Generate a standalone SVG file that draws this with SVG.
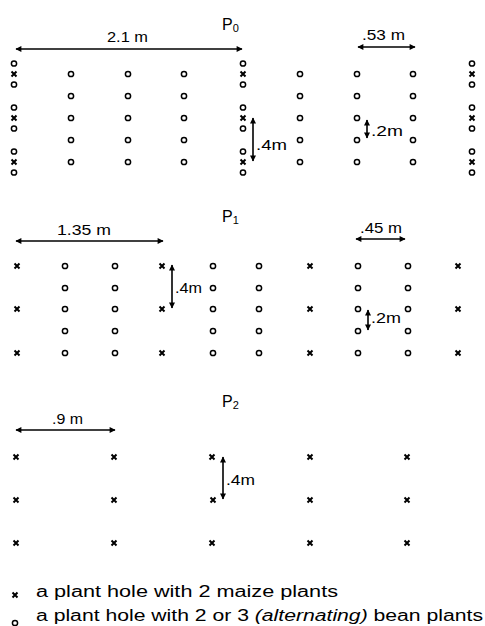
<svg xmlns="http://www.w3.org/2000/svg" xmlns:xlink="http://www.w3.org/1999/xlink" width="485" height="626" viewBox="0 0 485 626">
<style>
  text { font-family: "Liberation Sans", "DejaVu Sans", Arial, sans-serif; fill: #000; }
  .lbl { font-size: 14px; }
  .title { font-size: 16px; }
  .sub { font-size: 11px; }
  .leg { font-size: 16px; }
  .bean { fill: #fff; stroke: #000; stroke-width: 1.5; }
  .maize { fill: none; stroke: #000; stroke-width: 2; stroke-linecap: butt; }
  .dim { stroke: #000; stroke-width: 1.6; fill: none; }
</style>
<defs>
  <circle id="o" r="2.6" class="bean"/>
  <path id="x" d="M-2.5,-2.5 L2.5,2.5 M2.5,-2.5 L-2.5,2.5" class="maize"/>
  <marker id="ah" viewBox="0 0 10 10" refX="9" refY="5" markerWidth="8" markerHeight="6" markerUnits="userSpaceOnUse" orient="auto-start-reverse">
    <path d="M0,0 L10,5 L0,10 z" fill="#000"/>
  </marker>
</defs>
<rect width="485" height="626" fill="#fff"/>

<!-- P0 -->
<g id="p0">
  <text class="title" x="222" y="30">P<tspan class="sub" dy="2">0</tspan></text>
  <g id="p0-oxo">
    <use href="#o" x="14" y="63.5"/><use href="#x" x="14" y="74"/><use href="#o" x="14" y="84.5"/>
    <use href="#o" x="14" y="107.5"/><use href="#x" x="14" y="118"/><use href="#o" x="14" y="128.5"/>
    <use href="#o" x="14" y="151.5"/><use href="#x" x="14" y="162"/><use href="#o" x="14" y="172.5"/>
    <use href="#o" x="243" y="63.5"/><use href="#x" x="243" y="74"/><use href="#o" x="243" y="84.5"/>
    <use href="#o" x="243" y="107.5"/><use href="#x" x="243" y="118"/><use href="#o" x="243" y="128.5"/>
    <use href="#o" x="243" y="151.5"/><use href="#x" x="243" y="162"/><use href="#o" x="243" y="172.5"/>
    <use href="#o" x="472" y="63.5"/><use href="#x" x="472" y="74"/><use href="#o" x="472" y="84.5"/>
    <use href="#o" x="472" y="107.5"/><use href="#x" x="472" y="118"/><use href="#o" x="472" y="128.5"/>
    <use href="#o" x="472" y="151.5"/><use href="#x" x="472" y="162"/><use href="#o" x="472" y="172.5"/>
  </g>
  <g id="p0-beans">
    <use href="#o" x="71" y="74"/><use href="#o" x="71" y="96"/><use href="#o" x="71" y="118"/><use href="#o" x="71" y="140"/><use href="#o" x="71" y="162"/>
    <use href="#o" x="128" y="74"/><use href="#o" x="128" y="96"/><use href="#o" x="128" y="118"/><use href="#o" x="128" y="140"/><use href="#o" x="128" y="162"/>
    <use href="#o" x="184" y="74"/><use href="#o" x="184" y="96"/><use href="#o" x="184" y="118"/><use href="#o" x="184" y="140"/><use href="#o" x="184" y="162"/>
    <use href="#o" x="300" y="74"/><use href="#o" x="300" y="96"/><use href="#o" x="300" y="118"/><use href="#o" x="300" y="140"/><use href="#o" x="300" y="162"/>
    <use href="#o" x="357" y="74"/><use href="#o" x="357" y="96"/><use href="#o" x="357" y="118"/><use href="#o" x="357" y="140"/><use href="#o" x="357" y="162"/>
    <use href="#o" x="413" y="74"/><use href="#o" x="413" y="96"/><use href="#o" x="413" y="118"/><use href="#o" x="413" y="140"/><use href="#o" x="413" y="162"/>
  </g>
  <text class="lbl" x="107" y="42" textLength="41" lengthAdjust="spacingAndGlyphs">2.1 m</text>
  <text class="lbl" x="362" y="40" textLength="43" lengthAdjust="spacingAndGlyphs">.53 m</text>
  <text class="lbl" x="256" y="150" textLength="31" lengthAdjust="spacingAndGlyphs">.4m</text>
  <text class="lbl" x="371" y="136" textLength="32" lengthAdjust="spacingAndGlyphs">.2m</text>
</g>

<!-- P1 -->
<g id="p1">
  <text class="title" x="222" y="222">P<tspan class="sub" dy="2">1</tspan></text>
  <g id="p1-maize">
    <use href="#x" x="17" y="266"/><use href="#x" x="17" y="309"/><use href="#x" x="17" y="353"/>
    <use href="#x" x="162" y="266"/><use href="#x" x="162" y="309"/><use href="#x" x="162" y="353"/>
    <use href="#x" x="310" y="266"/><use href="#x" x="310" y="309"/><use href="#x" x="310" y="353"/>
    <use href="#x" x="458" y="266"/><use href="#x" x="458" y="309"/><use href="#x" x="458" y="353"/>
  </g>
  <g id="p1-beans">
    <use href="#o" x="65" y="266"/><use href="#o" x="65" y="288"/><use href="#o" x="65" y="309"/><use href="#o" x="65" y="331"/><use href="#o" x="65" y="353"/>
    <use href="#o" x="115" y="266"/><use href="#o" x="115" y="288"/><use href="#o" x="115" y="309"/><use href="#o" x="115" y="331"/><use href="#o" x="115" y="353"/>
    <use href="#o" x="213" y="266"/><use href="#o" x="213" y="288"/><use href="#o" x="213" y="309"/><use href="#o" x="213" y="331"/><use href="#o" x="213" y="353"/>
    <use href="#o" x="259" y="266"/><use href="#o" x="259" y="288"/><use href="#o" x="259" y="309"/><use href="#o" x="259" y="331"/><use href="#o" x="259" y="353"/>
    <use href="#o" x="358" y="266"/><use href="#o" x="358" y="288"/><use href="#o" x="358" y="309"/><use href="#o" x="358" y="331"/><use href="#o" x="358" y="353"/>
    <use href="#o" x="408" y="266"/><use href="#o" x="408" y="288"/><use href="#o" x="408" y="309"/><use href="#o" x="408" y="331"/><use href="#o" x="408" y="353"/>
  </g>
  <text class="lbl" x="57" y="235" textLength="54" lengthAdjust="spacingAndGlyphs">1.35 m</text>
  <text class="lbl" x="360" y="233" textLength="42" lengthAdjust="spacingAndGlyphs">.45 m</text>
  <text class="lbl" x="175" y="293" textLength="27" lengthAdjust="spacingAndGlyphs">.4m</text>
  <text class="lbl" x="371" y="323" textLength="30" lengthAdjust="spacingAndGlyphs">.2m</text>
</g>

<!-- P2 -->
<g id="p2">
  <text class="title" x="222" y="407">P<tspan class="sub" dy="2">2</tspan></text>
  <g id="p2-maize">
    <use href="#x" x="16" y="457"/><use href="#x" x="16" y="500"/><use href="#x" x="16" y="543"/>
    <use href="#x" x="114" y="457"/><use href="#x" x="114" y="500"/><use href="#x" x="114" y="543"/>
    <use href="#x" x="212" y="457"/><use href="#x" x="213" y="500"/><use href="#x" x="212" y="543"/>
    <use href="#x" x="310" y="457"/><use href="#x" x="310" y="500"/><use href="#x" x="310" y="543"/>
    <use href="#x" x="407" y="457"/><use href="#x" x="407" y="500"/><use href="#x" x="407" y="543"/>
  </g>
  <text class="lbl" x="52" y="424" textLength="31" lengthAdjust="spacingAndGlyphs">.9 m</text>
  <text class="lbl" x="226" y="485" textLength="29" lengthAdjust="spacingAndGlyphs">.4m</text>
</g>

<!-- dimension arrows -->
<g id="connectors">
  <line class="dim" x1="16" y1="49" x2="242" y2="49" marker-start="url(#ah)" marker-end="url(#ah)"/>
  <line class="dim" x1="358" y1="47" x2="415" y2="47" marker-start="url(#ah)" marker-end="url(#ah)"/>
  <line class="dim" x1="253" y1="118" x2="253" y2="161" marker-start="url(#ah)" marker-end="url(#ah)"/>
  <line class="dim" x1="367" y1="120" x2="367" y2="138" marker-start="url(#ah)" marker-end="url(#ah)"/>
  <line class="dim" x1="16" y1="241" x2="163" y2="241" marker-start="url(#ah)" marker-end="url(#ah)"/>
  <line class="dim" x1="356" y1="239" x2="405" y2="239" marker-start="url(#ah)" marker-end="url(#ah)"/>
  <line class="dim" x1="172" y1="265" x2="172" y2="308" marker-start="url(#ah)" marker-end="url(#ah)"/>
  <line class="dim" x1="368" y1="310" x2="368" y2="330" marker-start="url(#ah)" marker-end="url(#ah)"/>
  <line class="dim" x1="16" y1="430" x2="115" y2="430" marker-start="url(#ah)" marker-end="url(#ah)"/>
  <line class="dim" x1="223" y1="457" x2="223" y2="499" marker-start="url(#ah)" marker-end="url(#ah)"/>
</g>

<!-- legend -->
<g id="legend">
  <use href="#x" x="15" y="595"/>
  <text class="leg" x="36" y="597" textLength="302" lengthAdjust="spacingAndGlyphs">a plant hole with 2 maize plants</text>
  <use href="#o" x="15" y="623"/>
  <text class="leg" x="36" y="621" textLength="447" lengthAdjust="spacingAndGlyphs">a plant hole with 2 or 3 <tspan font-style="italic">(alternating)</tspan> bean plants</text>
</g>
</svg>
